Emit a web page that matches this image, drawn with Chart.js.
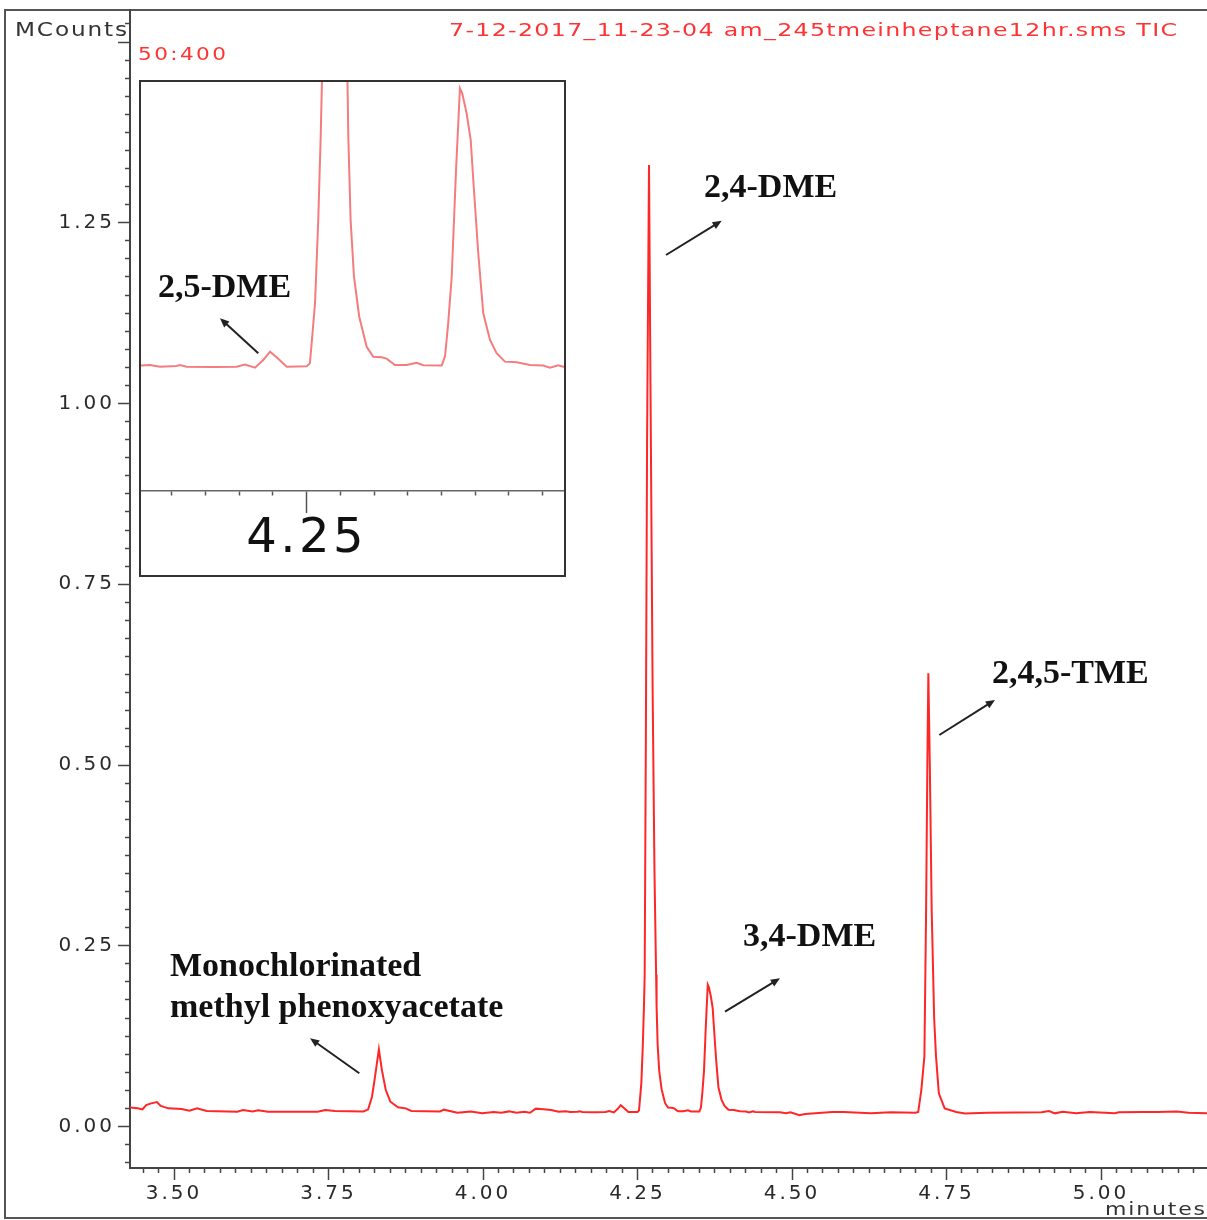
<!DOCTYPE html>
<html>
<head>
<meta charset="utf-8">
<script src="https://cdn.jsdelivr.net/npm/chart.js@4.4.1/dist/chart.umd.min.js"></script>
<style>
  html, body { margin: 0; padding: 0; background: #fff; overflow: hidden; }
  #wrap { position: relative; width: 1207px; height: 1220px; overflow: hidden; }
  #frame { position: absolute; left: 4px; top: 9px; width: 1300px; height: 1210px; border: 2px solid #555; box-sizing: border-box; }
  #main { position: absolute; left: 0; top: 0; }
  #insetBox { position: absolute; left: 139px; top: 80px; width: 427px; height: 497px; border: 2px solid #333; box-sizing: border-box; background: #fff; }
  #inset { display: block; }
</style>
</head>
<body>
<div id="wrap">
  <div id="frame"></div>
  <canvas id="main" width="1207" height="1220"></canvas>
  <div id="insetBox"><canvas id="inset" width="423" height="493"></canvas></div>
</div>
<script>
// retention time (minutes)
const times = [
  3.428, 3.4414, 3.4489, 3.455, 3.4631, 3.4723, 3.4785, 3.4909, 3.5126, 3.5249,
  3.5374, 3.5529, 3.6024, 3.6117, 3.6272, 3.6364, 3.6519, 3.7324, 3.7448, 3.7603,
  3.8068, 3.8142, 3.8204, 3.8253, 3.8315, 3.8364, 3.8427, 3.8501, 3.8625, 3.8749,
  3.8841, 3.9306, 3.9368, 3.9461, 3.9585, 3.9801, 3.9987, 4.0173, 4.0296, 4.0421,
  4.0544, 4.0668, 4.0761, 4.0854, 4.0977, 4.1102, 4.1225, 4.1338, 4.1412, 4.1536,
  4.156, 4.161, 4.1807, 4.1981, 4.2042, 4.2117, 4.2178, 4.2228, 4.2277, 4.2352,
  4.25, 4.2524, 4.2537, 4.2562, 4.2586, 4.2604, 4.2616, 4.2636, 4.2655, 4.2686,
  4.2716, 4.2745, 4.2775, 4.2801, 4.2809, 4.2826, 4.2851, 4.289, 4.2945, 4.2994,
  4.3056, 4.3093, 4.3155, 4.3242, 4.3316, 4.3365, 4.3501, 4.3526, 4.355, 4.3576,
  4.3608, 4.3637, 4.3654, 4.3687, 4.3717, 4.3736, 4.3773, 4.381, 4.386, 4.3909,
  4.3971, 4.4058, 4.4157, 4.4255, 4.4305, 4.4366, 4.4404, 4.4806, 4.49, 4.4976,
  4.512, 4.5213, 4.5652, 4.584, 4.6278, 4.6592, 4.6999, 4.7042, 4.7092, 4.7142,
  4.717, 4.719, 4.7206, 4.723, 4.726, 4.73, 4.733, 4.7376, 4.747, 4.7657,
  4.78, 4.8157, 4.9036, 4.916, 4.9254, 4.9379, 4.9599, 4.9817, 5.0225, 5.0288,
  5.0663, 5.0914, 5.1226, 5.1416, 5.1715
];

// signal (MCounts)
const counts = [
  0.0265, 0.0251, 0.0237, 0.0297, 0.032, 0.0339, 0.0284, 0.0251, 0.0242, 0.0219,
  0.0251, 0.0214, 0.0205, 0.0228, 0.0209, 0.0223, 0.0205, 0.0205, 0.0228, 0.0214,
  0.0209, 0.0237, 0.0412, 0.0689, 0.1068, 0.078, 0.0505, 0.0343, 0.0265, 0.0251,
  0.0214, 0.0209, 0.0233, 0.0214, 0.0191, 0.0209, 0.0182, 0.02, 0.019, 0.0209,
  0.019, 0.0205, 0.019, 0.0247, 0.0237, 0.0228, 0.0205, 0.021, 0.02, 0.0204,
  0.021, 0.02, 0.0198, 0.02, 0.0213, 0.0194, 0.0242, 0.0295, 0.0259, 0.02,
  0.0202, 0.0221, 0.0348, 0.06, 0.1127, 0.1654, 0.21, 0.55, 0.95, 1.33,
  0.95, 0.6, 0.35, 0.21, 0.1654, 0.1127, 0.0769, 0.0516, 0.0326, 0.0263,
  0.0259, 0.0251, 0.0211, 0.0211, 0.0225, 0.0209, 0.0207, 0.0263, 0.0474, 0.0769,
  0.1443, 0.196, 0.1928, 0.18, 0.1633, 0.138, 0.0917, 0.0538, 0.0369, 0.0285,
  0.0232, 0.0228, 0.0211, 0.0207, 0.0194, 0.0209, 0.02, 0.0196, 0.0182, 0.0196,
  0.0155, 0.0173, 0.02, 0.02, 0.0182, 0.0196, 0.019, 0.02, 0.05, 0.097,
  0.3, 0.5, 0.627, 0.5, 0.3, 0.15, 0.097, 0.046, 0.025, 0.0201,
  0.018, 0.019, 0.0196, 0.0214, 0.0182, 0.0205, 0.0182, 0.02, 0.0182, 0.0196,
  0.02, 0.02, 0.0209, 0.019, 0.0182
];

const xMajorTicks = [3.50, 3.75, 4.00, 4.25, 4.50, 4.75, 5.00];
const xTickLabels = ['3.50', '3.75', '4.00', '4.25', '4.50', '4.75', '5.00'];
const yMajorTicks = [0.00, 0.25, 0.50, 0.75, 1.00, 1.25, 1.50];
const yTickLabels = ['0.00', '0.25', '0.50', '0.75', '1.00', '1.25', ''];
const insetMajorTicks = [4.25];
const insetTickLabels = ['4.25'];

// peak names, anchored in data units (minutes, MCounts)
const peakNotes = [
  { lines: ['2,4-DME'], at: [4.3576, 1.298], from: [4.2961, 1.2054], to: [4.3863, 1.2528] },
  { lines: ['3,4-DME'], at: [4.4207, 0.2621], from: [4.3916, 0.1588], to: [4.4806, 0.205] },
  { lines: ['2,4,5-TME'], at: [4.8236, 0.6259], from: [4.7384, 0.5415], to: [4.8285, 0.5899] },
  { lines: ['Monochlorinated', 'methyl phenoxyacetate'], at: [3.4935, 0.2206], from: [3.7998, 0.0736], to: [3.7201, 0.122] }
];
const insetNotes = [
  { lines: ['2,5-DME'], at: [4.1397, 0.0697], from: [4.2141, 0.0285], to: [4.1857, 0.0506] }
];

const points = times.map((t, i) => ({ x: t, y: counts[i] }));

const AXIS_FONT = '"DejaVu Sans", sans-serif';
const NOTE_FONT = 'bold 34px "Liberation Serif", "Times New Roman", serif';

function majorIndex(list, v) {
  return list.findIndex(m => Math.abs(m - v) < 1e-6);
}

// printout text is stretched sideways: scale it to span left..right
function fitText(ctx, text, left, right, y, font, color, spacing) {
  ctx.save();
  ctx.font = font;
  ctx.fillStyle = color;
  ctx.textAlign = 'left';
  ctx.textBaseline = 'middle';
  ctx.letterSpacing = spacing + 'px';
  const w = ctx.measureText(text).width - spacing;
  ctx.translate(left, y);
  ctx.scale((right - left) / w, 1);
  ctx.fillText(text, 0, 0);
  ctx.restore();
}

function drawNote(ctx, note, xs, ys) {
  ctx.font = NOTE_FONT;
  ctx.fillStyle = '#111';
  ctx.textAlign = 'left';
  ctx.textBaseline = 'middle';
  ctx.letterSpacing = '0px';
  const x = xs.getPixelForValue(note.at[0]);
  const y = ys.getPixelForValue(note.at[1]);
  note.lines.forEach((line, i) => ctx.fillText(line, x, y + i * 41));

  const x1 = xs.getPixelForValue(note.from[0]), y1 = ys.getPixelForValue(note.from[1]);
  const x2 = xs.getPixelForValue(note.to[0]), y2 = ys.getPixelForValue(note.to[1]);
  const a = Math.atan2(y2 - y1, x2 - x1);
  ctx.strokeStyle = '#222';
  ctx.lineWidth = 2;
  ctx.beginPath();
  ctx.moveTo(x1, y1);
  ctx.lineTo(x2 - 6 * Math.cos(a), y2 - 6 * Math.sin(a));
  ctx.stroke();
  ctx.fillStyle = '#222';
  ctx.beginPath();
  ctx.moveTo(x2, y2);
  ctx.lineTo(x2 - 10 * Math.cos(a - 0.4), y2 - 10 * Math.sin(a - 0.4));
  ctx.lineTo(x2 - 10 * Math.cos(a + 0.4), y2 - 10 * Math.sin(a + 0.4));
  ctx.closePath();
  ctx.fill();
}

const mainDecor = {
  id: 'mainDecor',
  beforeDraw(chart) { chart.ctx.letterSpacing = '3px'; },
  afterDraw(chart) {
    const ctx = chart.ctx;
    ctx.save();
    fitText(ctx, 'MCounts', 15, 127, 31, '19px ' + AXIS_FONT, '#333', 1.5);
    fitText(ctx, '7-12-2017_11-23-04 am_245tmeinheptane12hr.sms TIC', 449, 1177, 31, '18px ' + AXIS_FONT, '#f33', 1);
    fitText(ctx, '50:400', 138, 226, 55, '18px ' + AXIS_FONT, '#f33', 2);
    fitText(ctx, 'minutes', 1105, 1205, 1210, '18px ' + AXIS_FONT, '#333', 1.5);
    peakNotes.forEach(n => drawNote(ctx, n, chart.scales.x, chart.scales.y));
    ctx.restore();
  }
};

const insetDecor = {
  id: 'insetDecor',
  beforeDraw(chart) { chart.ctx.letterSpacing = '3.5px'; },
  afterDraw(chart) {
    const ctx = chart.ctx;
    ctx.save();
    insetNotes.forEach(n => drawNote(ctx, n, chart.scales.x, chart.scales.y));
    ctx.restore();
  }
};

new Chart(document.getElementById('main'), {
  type: 'line',
  data: {
    datasets: [{
      data: points,
      borderColor: '#ff2626',
      borderWidth: 2,
      pointRadius: 0,
      tension: 0
    }]
  },
  options: {
    responsive: false,
    animation: false,
    events: [],
    layout: { padding: { top: 10, left: 0, right: 0, bottom: 0 } },
    plugins: { legend: { display: false }, tooltip: { enabled: false } },
    scales: {
      x: {
        type: 'linear',
        min: 3.4288,
        max: 5.1715,
        afterFit: s => { s.height = 52; s.paddingLeft = 0; s.paddingRight = 0; },
        border: { color: '#444', width: 2 },
        grid: {
          drawOnChartArea: false,
          tickLength: 12,
          tickColor: '#444',
          tickWidth: 1.5,
          tickBorderDash: c => majorIndex(xMajorTicks, c.tick.value) >= 0 ? [] : [4, 100]
        },
        ticks: {
          stepSize: 0.025,
          includeBounds: false,
          autoSkip: false,
          maxRotation: 0,
          minRotation: 0,
          padding: 2,
          color: '#2a2a2a',
          font: { family: AXIS_FONT, size: 20 },
          callback: v => { const i = majorIndex(xMajorTicks, v); return i >= 0 ? xTickLabels[i] : ''; }
        }
      },
      y: {
        type: 'linear',
        min: -0.0574,
        max: 1.5443,
        afterFit: s => { s.width = 130; s.paddingTop = 0; s.paddingBottom = 0; },
        border: { color: '#444', width: 2 },
        grid: {
          drawOnChartArea: false,
          tickLength: 12,
          tickColor: '#444',
          tickWidth: 1.5,
          tickBorderDash: c => majorIndex(yMajorTicks, c.tick.value) >= 0 ? [] : [4, 100],
          tickBorderDashOffset: c => majorIndex(yMajorTicks, c.tick.value) >= 0 ? 0 : -7
        },
        ticks: {
          stepSize: 0.025,
          includeBounds: false,
          autoSkip: false,
          padding: 3,
          color: '#2a2a2a',
          font: { family: AXIS_FONT, size: 20 },
          callback: v => { const i = majorIndex(yMajorTicks, v); return i >= 0 ? yTickLabels[i] : ''; }
        }
      }
    }
  },
  plugins: [mainDecor]
});

// zoomed view around 4.25 min
new Chart(document.getElementById('inset'), {
  type: 'line',
  data: {
    datasets: [{
      data: points,
      borderColor: '#f57c7c',
      borderWidth: 2,
      pointRadius: 0,
      tension: 0
    }]
  },
  options: {
    responsive: false,
    animation: false,
    events: [],
    layout: { padding: 0 },
    plugins: { legend: { display: false }, tooltip: { enabled: false } },
    scales: {
      x: {
        type: 'linear',
        min: 4.1271,
        max: 4.4409,
        afterFit: s => { s.height = 84; s.paddingLeft = 0; s.paddingRight = 0; },
        border: { color: '#666', width: 1.5 },
        grid: {
          drawOnChartArea: false,
          tickLength: 22,
          tickColor: '#555',
          tickWidth: 1.5,
          tickBorderDash: c => majorIndex(insetMajorTicks, c.tick.value) >= 0 ? [] : [4, 100]
        },
        ticks: {
          stepSize: 0.025,
          includeBounds: false,
          autoSkip: false,
          maxRotation: 0,
          minRotation: 0,
          padding: 3,
          color: '#111',
          font: { family: AXIS_FONT, size: 48, lineHeight: 1 },
          callback: v => { const i = majorIndex(insetMajorTicks, v); return i >= 0 ? insetTickLabels[i] : ''; }
        }
      },
      y: {
        type: 'linear',
        display: false,
        min: -0.0586,
        max: 0.2
      }
    }
  },
  plugins: [insetDecor]
});
</script>
</body>
</html>
